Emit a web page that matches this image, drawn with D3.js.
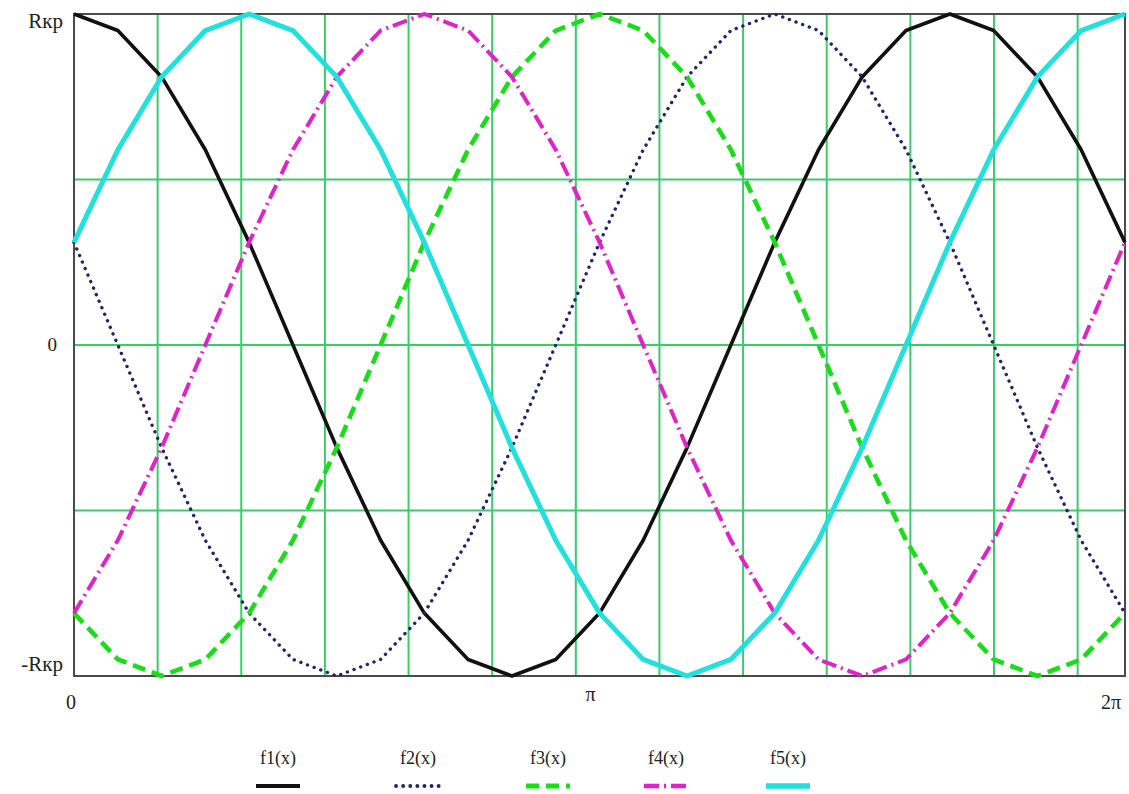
<!DOCTYPE html>
<html>
<head>
<meta charset="utf-8">
<script src="https://cdn.jsdelivr.net/npm/d3@7"></script>
<style>
  body { margin: 0; background: #fff; }
  svg { display: block; }
  text { font-family: "Liberation Serif", "DejaVu Serif", serif; fill: #222; }
</style>
</head>
<body>
<div id="chart"></div>
<script>
const width = 1129;
const height = 794;
const margin = {top: 14, bottom: 118, left: 74, right: 4};

// sample points in radians (0 .. 2π, step π/12)
const xValues = [0, 0.262, 0.524, 0.785, 1.047, 1.309, 1.571, 1.833, 2.094, 2.356, 2.618, 2.880,
  3.142, 3.403, 3.665, 3.927, 4.189, 4.451, 4.712, 4.974, 5.236, 5.498, 5.760, 6.021, 6.283];

const f1 = [1, 0.95, 0.81, 0.59, 0.31, 0, -0.31, -0.59, -0.81, -0.95, -1, -0.95, -0.81,
  -0.59, -0.31, 0, 0.31, 0.59, 0.81, 0.95, 1, 0.95, 0.81, 0.59, 0.31];
const f2 = [0.31, 0, -0.31, -0.59, -0.81, -0.95, -1, -0.95, -0.81, -0.59, -0.31, 0, 0.31,
  0.59, 0.81, 0.95, 1, 0.95, 0.81, 0.59, 0.31, 0, -0.31, -0.59, -0.81];
const f3 = [-0.81, -0.95, -1, -0.95, -0.81, -0.59, -0.31, 0, 0.31, 0.59, 0.81, 0.95, 1,
  0.95, 0.81, 0.59, 0.31, 0, -0.31, -0.59, -0.81, -0.95, -1, -0.95, -0.81];
const f4 = [-0.81, -0.59, -0.31, 0, 0.31, 0.59, 0.81, 0.95, 1, 0.95, 0.81, 0.59, 0.31,
  0, -0.31, -0.59, -0.81, -0.95, -1, -0.95, -0.81, -0.59, -0.31, 0, 0.31];
const f5 = [0.31, 0.59, 0.81, 0.95, 1, 0.95, 0.81, 0.59, 0.31, 0, -0.31, -0.59, -0.81,
  -0.95, -1, -0.95, -0.81, -0.59, -0.31, 0, 0.31, 0.59, 0.81, 0.95, 1];

const seriesNames = ["f1(x)", "f2(x)", "f3(x)", "f4(x)", "f5(x)"];
const seriesValues = [f1, f2, f3, f4, f5];

const xGrid = [0.5, 1, 1.5, 2, 2.5, 3, 3.5, 4, 4.5, 5, 5.5, 6];
const yGrid = [-0.5, 0, 0.5];
const yTicks = [1, 0, -1];
const yTickLabels = ["Rкр", "0", "-Rкр"];
const xTicks = [0, Math.PI, 2 * Math.PI];
const xTickLabels = ["0", "π", "2π"];

const styles = [
  {color: "#111111", w: 3.6, dash: null, cap: "butt"},
  {color: "#23236e", w: 3.4, dash: "0.1 7", cap: "round"},
  {color: "#19dd19", w: 4.6, dash: "13 7", cap: "butt"},
  {color: "#e022c8", w: 4, dash: "15 5 2 5", cap: "butt"},
  {color: "#22e0dc", w: 5, dash: null, cap: "butt"}
];

const svg = d3.select('#chart')
  .append('svg')
  .attr('width', width)
  .attr('height', height)
  .attr('viewBox', [0, 0, width, height]);

const x = d3.scaleLinear()
  .domain([0, 2 * Math.PI])
  .range([margin.left, width - margin.right]);

const y = d3.scaleLinear()
  .domain([-1, 1])
  .range([height - margin.bottom, margin.top]);

// grid
svg.append('g')
  .attr('stroke', '#38cc6a')
  .attr('stroke-width', 2)
  .call(g => g.selectAll('line.v').data(xGrid).join('line')
    .attr('x1', d => x(d)).attr('x2', d => x(d))
    .attr('y1', y(-1)).attr('y2', y(1)))
  .call(g => g.selectAll('line.h').data(yGrid).join('line')
    .attr('x1', x(0)).attr('x2', x(2 * Math.PI))
    .attr('y1', d => y(d)).attr('y2', d => y(d)));

// frame
svg.append('rect')
  .attr('x', x(0)).attr('y', y(1))
  .attr('width', x(2 * Math.PI) - x(0))
  .attr('height', y(-1) - y(1))
  .attr('fill', 'none')
  .attr('stroke', '#4a4a4a')
  .attr('stroke-width', 2);

// curves
const line = d3.line()
  .x((d, i) => x(xValues[i]))
  .y(d => y(d));

seriesValues.forEach((vals, i) => {
  const s = styles[i];
  svg.append('path')
    .datum(vals)
    .attr('fill', 'none')
    .attr('stroke', s.color)
    .attr('stroke-width', s.w)
    .attr('stroke-dasharray', s.dash)
    .attr('stroke-linecap', s.cap)
    .attr('stroke-linejoin', 'round')
    .attr('d', line);
});

// y labels
svg.append('g')
  .selectAll('text')
  .data(yTicks)
  .join('text')
    .attr('x', (d, i) => i === 1 ? 57 : 63)
    .attr('y', d => d === 1 ? y(d) + 14 : d === -1 ? y(d) - 5 : y(d) + 6)
    .attr('text-anchor', 'end')
    .attr('font-size', (d, i) => i === 1 ? 19 : 21)
    .text((d, i) => yTickLabels[i]);

// x labels
svg.append('g')
  .selectAll('text')
  .data(xTicks)
  .join('text')
    .attr('x', (d, i) => i === 0 ? x(d) - 3 : i === 1 ? x(d) - 9 : x(d) - 14)
    .attr('y', (d, i) => i === 1 ? 701 : 709)
    .attr('text-anchor', 'middle')
    .attr('font-size', 20)
    .text((d, i) => xTickLabels[i]);

// legend
const legendX = [278, 418, 548, 666, 788];
const legend = svg.append('g')
  .selectAll('g')
  .data(seriesNames)
  .join('g')
    .attr('transform', (d, i) => `translate(${legendX[i]}, 0)`);

legend.append('text')
  .attr('y', 764)
  .attr('text-anchor', 'middle')
  .attr('font-size', 18)
  .text(d => d);

legend.append('line')
  .attr('x1', -22).attr('x2', 22)
  .attr('y1', 786).attr('y2', 786)
  .attr('stroke', (d, i) => styles[i].color)
  .attr('stroke-width', (d, i) => styles[i].w + 0.4)
  .attr('stroke-dasharray', (d, i) => styles[i].dash)
  .attr('stroke-linecap', (d, i) => styles[i].cap);
</script>
</body>
</html>
